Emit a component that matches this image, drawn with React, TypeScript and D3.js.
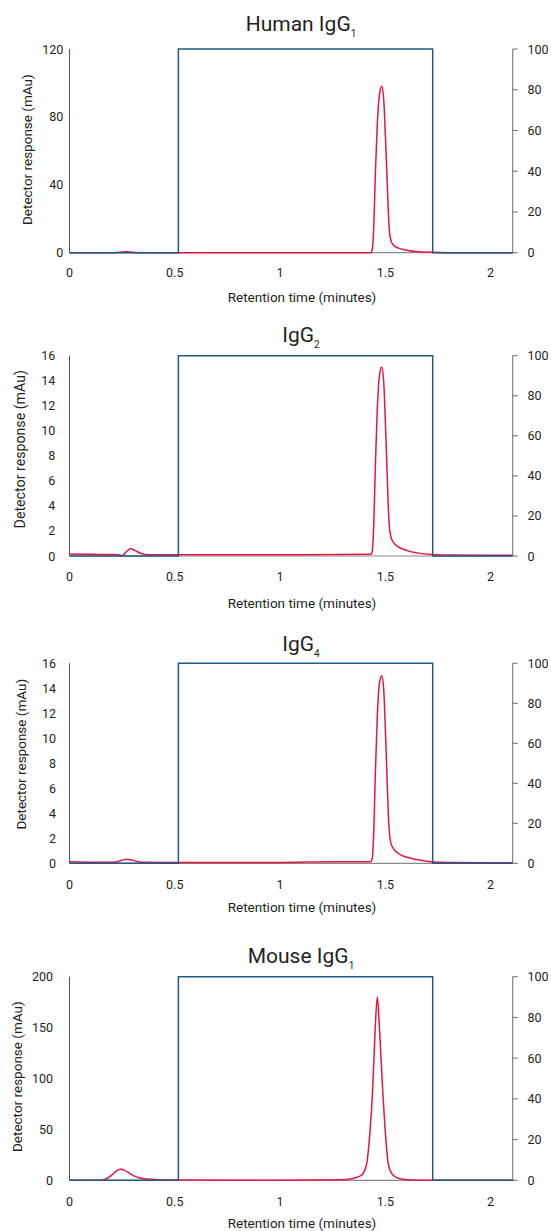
import React from 'react';
import * as d3 from 'd3';

// ---------- data ----------
const titles = ['Human IgG', 'IgG', 'IgG', 'Mouse IgG'];
const titleSubscripts = ['1', '2', '4', '1'];

const xTicks = [0, 0.5, 1, 1.5, 2];
const rightTicks = [0, 20, 40, 60, 80, 100];
const leftTicksHuman = [0, 40, 80, 120];
const leftTicksIgG = [0, 2, 4, 6, 8, 10, 12, 14, 16];
const leftTicksMouse = [0, 50, 100, 150, 200];

// gradient (% B) profile, right axis
const gradientTime = [0, 0.517, 0.517, 1.725, 1.725, 2.105];
const gradientPercent = [0, 0, 100, 100, 0, 0];

// detector traces (mAu), left axis
const humanIgG1Time = [0, 0.2, 0.24, 0.27, 0.3, 0.34, 0.517, 1.0, 1.43, 1.438, 1.445, 1.453, 1.462, 1.472, 1.483, 1.492, 1.5, 1.507, 1.514, 1.52, 1.527, 1.538, 1.56, 1.6, 1.65, 1.72, 1.8, 2.105];
const humanIgG1Signal = [0, 0, 0.3, 0.5, 0.3, 0, 0, 0, 0, 2, 15, 48, 76, 93, 98, 91, 70, 48, 25, 12, 7, 4.5, 2.8, 1.5, 0.7, 0.2, 0, 0];

const igG2Time = [0, 0.1, 0.2, 0.235, 0.25, 0.27, 0.29, 0.31, 0.34, 0.38, 0.517, 1.0, 1.3, 1.43, 1.438, 1.445, 1.453, 1.462, 1.472, 1.483, 1.492, 1.5, 1.507, 1.514, 1.52, 1.527, 1.538, 1.56, 1.6, 1.65, 1.72, 1.8, 2.105];
const igG2Signal = [0.15, 0.13, 0.12, 0.1, 0.02, 0.35, 0.58, 0.45, 0.2, 0.1, 0.1, 0.1, 0.12, 0.13, 0.4, 2.5, 7.4, 11.8, 14.4, 15.1, 14, 10.8, 7.4, 4, 2.2, 1.5, 1.1, 0.75, 0.45, 0.25, 0.12, 0.08, 0.05];

const igG4Time = [0, 0.05, 0.15, 0.22, 0.25, 0.27, 0.29, 0.32, 0.36, 0.517, 1.0, 1.25, 1.4, 1.43, 1.438, 1.445, 1.453, 1.462, 1.472, 1.483, 1.492, 1.5, 1.507, 1.514, 1.52, 1.527, 1.538, 1.56, 1.6, 1.65, 1.72, 1.8, 2.105];
const igG4Signal = [0.12, 0.1, 0.08, 0.1, 0.25, 0.32, 0.28, 0.15, 0.08, 0.07, 0.07, 0.12, 0.12, 0.12, 0.4, 2.5, 7.4, 11.8, 14.4, 15.0, 14, 10.8, 7.4, 4, 2.3, 1.6, 1.2, 0.8, 0.5, 0.3, 0.12, 0.07, 0.04];

const mouseIgG1Time = [0, 0.14, 0.17, 0.2, 0.225, 0.243, 0.26, 0.28, 0.3, 0.33, 0.37, 0.42, 0.517, 1.0, 1.3, 1.35, 1.387, 1.41, 1.428, 1.44, 1.452, 1.462, 1.472, 1.487, 1.499, 1.515, 1.537, 1.57, 1.62, 1.7, 2.105];
const mouseIgG1Signal = [0, 0, 1, 5, 9.5, 10.8, 10, 7.5, 5, 2.5, 1.2, 0.6, 0.3, 0, 0.5, 2, 5, 15, 50, 90, 150, 180, 150, 90, 50, 15, 5, 1.5, 0.3, 0, 0];

// ---------- layout ----------
const W = 551;
const H = 1231;
const FONT = 'Roboto, "Noto Sans", sans-serif';
const RED = '#e5173f';
const BLUE = '#1f5b86';
const TEXT = '#231f20';
const X0 = 69.5;
const X1 = 512.7;

const panels = [
  { time: humanIgG1Time, signal: humanIgG1Signal, ticks: leftTicksHuman, titleY: 31, top: 49, bottom: 252.7, labelRight: 63.3, ylabX: 27, ylabY: 149.7, ylabSize: 13.5, xLabY: 272.7, xTitleY: 296.7 },
  { time: igG2Time, signal: igG2Signal, ticks: leftTicksIgG, titleY: 341.7, top: 355.7, bottom: 556, labelRight: 55.4, ylabX: 20, ylabY: 449.2, ylabSize: 14.2, xLabY: 576.7, xTitleY: 603.3 },
  { time: igG4Time, signal: igG4Signal, ticks: leftTicksIgG, titleY: 650.7, top: 663.3, bottom: 863.3, labelRight: 56, ylabX: 21, ylabY: 754.2, ylabSize: 13.5, xLabY: 884, xTitleY: 906.7 },
  { time: mouseIgG1Time, signal: mouseIgG1Signal, ticks: leftTicksMouse, titleY: 962.7, top: 976.7, bottom: 1180.3, labelRight: 53, ylabX: 17.3, ylabY: 1076.7, ylabSize: 13.5, xLabY: 1201, xTitleY: 1223.3 },
];

function Panel({ p, i }: { p: any; i: number }) {
  const x = d3.scaleLinear().domain([0, 2.105]).range([X0, X1]);
  const yMax = p.ticks[p.ticks.length - 1];
  const y = d3.scaleLinear().domain([0, yMax]).range([p.bottom, p.top]);
  const yR = d3.scaleLinear().domain([0, 100]).range([p.bottom, p.top]);

  const redLine = d3
    .line<number>()
    .x((_, k) => x(p.time[k]))
    .y((v) => y(v))
    .curve(d3.curveMonotoneX);
  const blueLine = d3
    .line<number>()
    .x((_, k) => x(gradientTime[k]))
    .y((v) => yR(v));

  return (
    <g>
      <text x={301} y={p.titleY} textAnchor="middle" fontFamily={FONT} fontSize={21} fill={TEXT}>
        {titles[i]}
        <tspan fontSize={10} dy={6}>{titleSubscripts[i]}</tspan>
      </text>
      {/* left axis */}
      <line x1={X0} x2={X0} y1={p.top} y2={p.bottom} stroke="#555" strokeWidth={1} />
      {p.ticks.map((t: number) => (
        <text key={'l' + t} x={p.labelRight} y={y(t)} textAnchor="end" dominantBaseline="central" fontFamily={FONT} fontSize={12.5} fill={TEXT}>
          {t}
        </text>
      ))}
      {/* right axis */}
      <line x1={X1} x2={X1} y1={yR(100)} y2={yR(0)} stroke="#6d6d6d" strokeWidth={1} />
      {rightTicks.map((t) => (
        <g key={'r' + t}>
          <line x1={X1} x2={X1 + 5} y1={yR(t)} y2={yR(t)} stroke="#6d6d6d" strokeWidth={1} />
          <text x={527.5} y={yR(t)} dominantBaseline="central" fontFamily={FONT} fontSize={12.5} fill={TEXT}>
            {t}
          </text>
        </g>
      ))}
      {/* x axis */}
      <line x1={X0} x2={X1} y1={p.bottom} y2={p.bottom} stroke="#8a8a8a" strokeWidth={1.2} />
      {xTicks.map((t) => (
        <text key={'x' + t} x={x(t)} y={p.xLabY} textAnchor="middle" dominantBaseline="central" fontFamily={FONT} fontSize={12.5} fill={TEXT}>
          {t}
        </text>
      ))}
      <text x={302} y={p.xTitleY} textAnchor="middle" dominantBaseline="central" fontFamily={FONT} fontSize={13.5} fill={TEXT}>
        Retention time (minutes)
      </text>
      <text
        transform={`translate(${p.ylabX},${p.ylabY}) rotate(-90)`}
        textAnchor="middle"
        dominantBaseline="central"
        fontFamily={FONT}
        fontSize={p.ylabSize}
        fill={TEXT}
      >
        Detector response (mAu)
      </text>
      {/* traces */}
      <path d={redLine(p.signal) || ''} fill="none" stroke={RED} strokeWidth={1.5} />
      <path d={blueLine(gradientPercent) || ''} fill="none" stroke={BLUE} strokeWidth={1.5} />
    </g>
  );
}

export default function App() {
  return (
    <svg width={W} height={H} style={{ position: 'absolute', left: 0, top: 0, background: '#fff' }}>
      <rect width={W} height={H} fill="#fff" />
      {panels.map((p, i) => (
        <Panel key={i} p={p} i={i} />
      ))}
    </svg>
  );
}
